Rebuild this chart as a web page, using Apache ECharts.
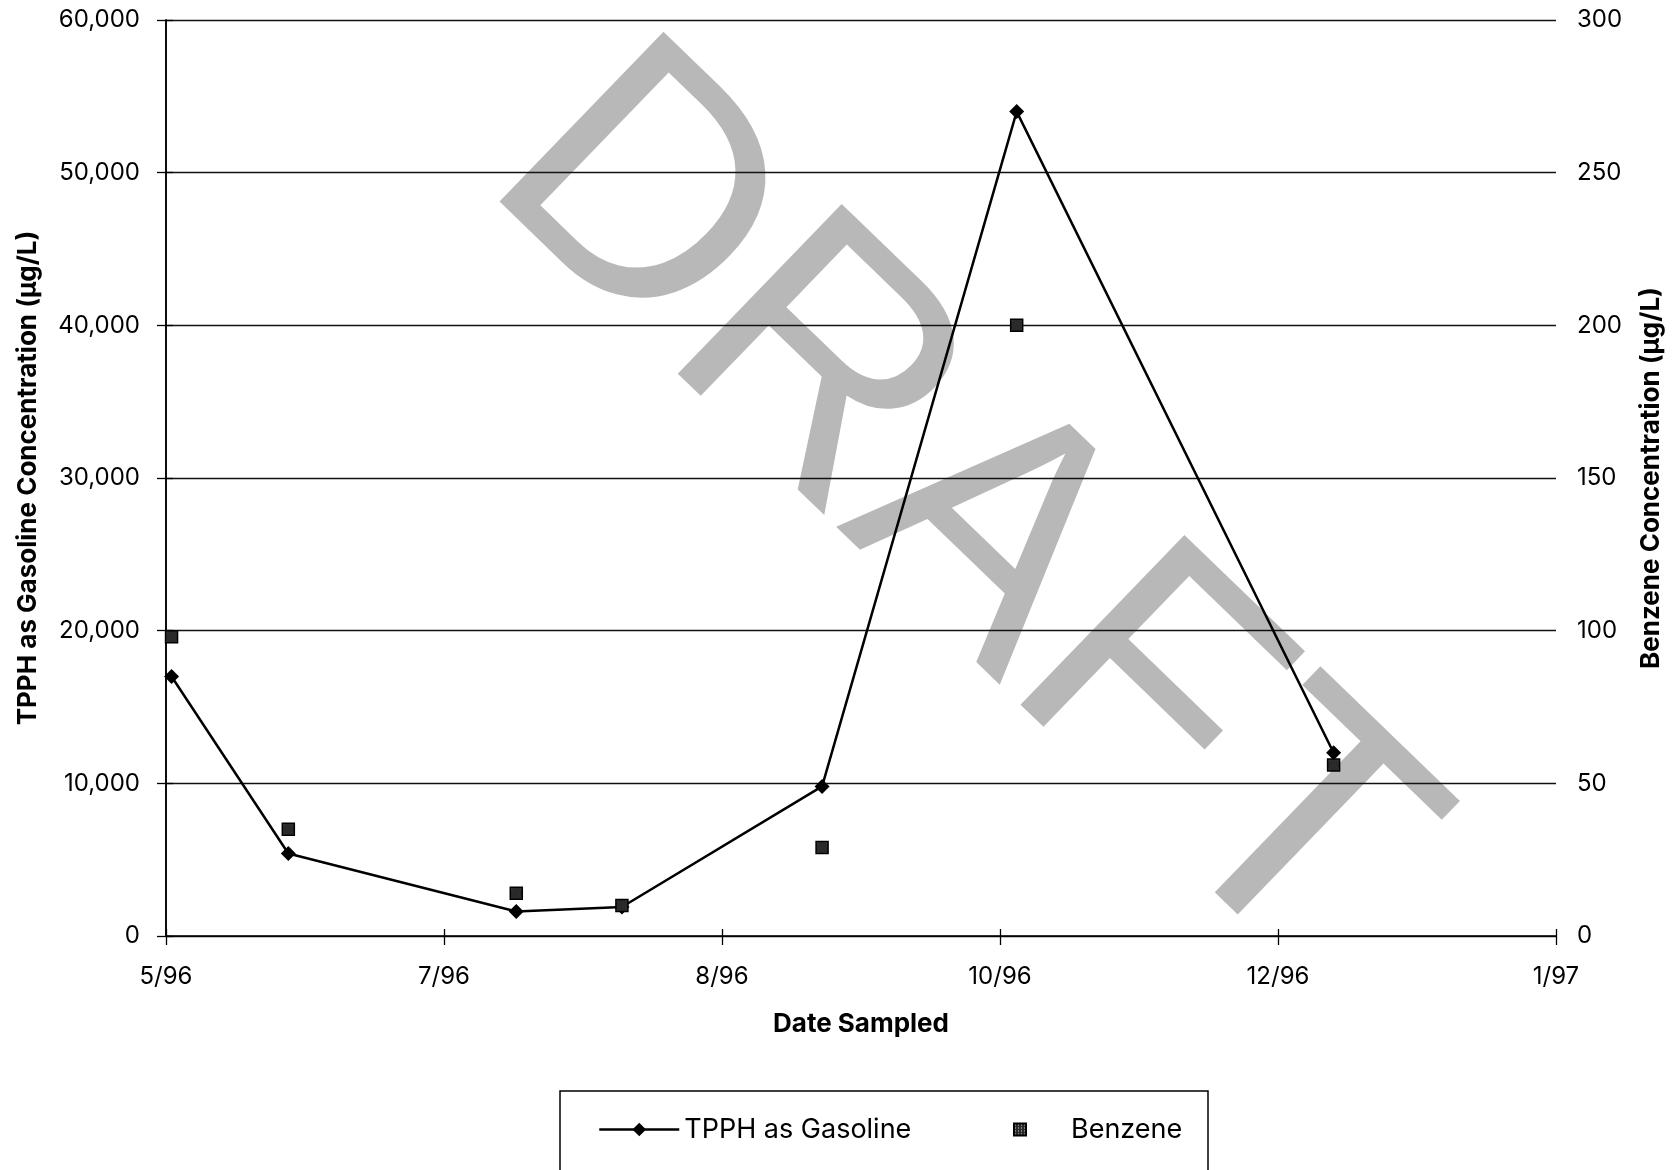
<!DOCTYPE html>
<html>
<head>
<meta charset="utf-8">
<title>TPPH as Gasoline and Benzene Concentrations</title>
<script src="https://cdn.jsdelivr.net/npm/echarts@6/dist/echarts.min.js"></script>
<style>
  html, body { margin: 0; padding: 0; background: #fff; }
  #chart { width: 1677px; height: 1170px; }
</style>
</head>
<body>
<div id="chart"></div>
<script>
// Time axis: day 0 is the axis origin, ticks every 50 days
const axisStart = '1996-05-20';
const axisSpanDays = 250;
const tickStepDays = 50;
const xTickLabels = ['5/96', '7/96', '8/96', '10/96', '12/96', '1/97'];

// Sampling events
const sampleDates = ['1996-05-21', '1996-06-11', '1996-07-22', '1996-08-10', '1996-09-15', '1996-10-20', '1996-12-16'];
const tpphValues = [17000, 5400, 1600, 1900, 9800, 54000, 12000];   // µg/L, left axis
const benzeneValues = [98, 35, 14, 10, 29, 200, 56];                  // µg/L, right axis

const tpphTicks = { min: 0, max: 60000, step: 10000 };
const benzeneTicks = { min: 0, max: 300, step: 50 };

const DAY_MS = 86400000;
function dayOffset(dateStr) {
  return (Date.parse(dateStr) - Date.parse(axisStart)) / DAY_MS;
}
const tpphData = sampleDates.map((d, i) => [dayOffset(d), tpphValues[i]]);
const benzeneData = sampleDates.map((d, i) => [dayOffset(d), benzeneValues[i]]);

// Small dotted fill for the benzene squares
function dotPattern() {
  const c = document.createElement('canvas');
  c.width = 3; c.height = 3;
  const g = c.getContext('2d');
  g.fillStyle = '#2a2a2a';
  g.fillRect(0, 0, 3, 3);
  g.fillStyle = '#d8d8d8';
  g.fillRect(1, 1, 1, 1);
  return { image: c, repeat: 'repeat' };
}

const FONT = 'Inter, "Liberation Sans", Arial, sans-serif';
const INK = '#000';

const chart = echarts.init(document.getElementById('chart'), null, { renderer: 'canvas' });

const tickFmt = v => v.toLocaleString('en-US');

chart.setOption({
  animation: false,
  backgroundColor: '#fff',
  grid: { left: 166, right: 121, top: 20, bottom: 234, containLabel: false },
  xAxis: [
    {
      type: 'value',
      position: 'bottom',
      min: 0, max: axisSpanDays, interval: tickStepDays,
      axisLine: { show: true, lineStyle: { color: INK, width: 1.5 } },
      axisTick: { show: true, inside: false, length: 9, lineStyle: { color: INK, width: 1.3 } },
      axisLabel: {
        margin: 29, color: INK, fontFamily: FONT, fontSize: 24,
        formatter: v => xTickLabels[Math.round(v / tickStepDays)] || ''
      },
      splitLine: { show: false },
      name: 'Date Sampled',
      nameLocation: 'middle',
      nameGap: 75,
      nameTextStyle: { color: INK, fontFamily: FONT, fontSize: 26, fontWeight: 'bold' }
    },
    {
      // inner half of the crossing date ticks
      type: 'value',
      position: 'bottom',
      min: 0, max: axisSpanDays, interval: tickStepDays,
      axisLine: { show: false },
      axisTick: { show: true, inside: true, length: 7, lineStyle: { color: INK, width: 1.3 } },
      axisLabel: { show: false },
      splitLine: { show: false }
    }
  ],
  yAxis: [
    {
      type: 'value',
      position: 'left',
      min: tpphTicks.min, max: tpphTicks.max, interval: tpphTicks.step,
      axisLine: { show: true, lineStyle: { color: INK, width: 1.6 } },
      axisTick: { show: true, inside: false, length: 9, lineStyle: { color: INK, width: 1.3 } },
      axisLabel: { margin: 26, color: INK, fontFamily: FONT, fontSize: 24, formatter: tickFmt },
      splitLine: { show: true, lineStyle: { color: '#111', width: 1.4 } },
      name: 'TPPH as Gasoline Concentration (µg/L)',
      nameLocation: 'middle',
      nameRotate: 90,
      nameGap: 125,
      nameTextStyle: { color: INK, fontFamily: FONT, fontSize: 26, fontWeight: 'bold' }
    },
    {
      type: 'value',
      position: 'right',
      min: benzeneTicks.min, max: benzeneTicks.max, interval: benzeneTicks.step,
      axisLine: { show: true, lineStyle: { color: INK, width: 1.5 } },
      axisTick: { show: true, inside: false, length: 7, lineStyle: { color: INK, width: 1.3 } },
      axisLabel: { margin: 21, color: INK, fontFamily: FONT, fontSize: 24 },
      splitLine: { show: false },
      name: 'Benzene Concentration (µg/L)',
      nameLocation: 'middle',
      nameRotate: 90,
      nameGap: 82,
      nameTextStyle: { color: INK, fontFamily: FONT, fontSize: 26, fontWeight: 'bold' }
    }
  ],
  legend: [
    {
      data: ['TPPH as Gasoline'],
      left: 598, top: 1116, padding: 0,
      itemWidth: 80, itemHeight: 17,
      lineStyle: { width: 2.5 },
      textStyle: { color: INK, fontFamily: FONT, fontSize: 27 },
      selectedMode: false
    },
    {
      data: [{ name: 'Benzene', icon: 'rect' }],
      left: 1013, top: 1116, padding: 0,
      itemWidth: 12, itemHeight: 12,
      textStyle: { color: INK, fontFamily: FONT, fontSize: 27, padding: [0, 0, 0, 40] },
      selectedMode: false
    }
  ],
  graphic: [
    {
      // DRAFT stamp across the plot
      type: 'text',
      z: -10,
      silent: true,
      x: 545, y: 114,
      rotation: -44 * Math.PI / 180,
      style: {
        text: 'DRAFT',
        font: '343px "Liberation Sans", Arial, sans-serif',
        fill: '#b8b8b8',
        align: 'left', textAlign: 'left',
        verticalAlign: 'middle', textVerticalAlign: 'middle'
      }
    },
    {
      // legend frame, running off the bottom edge
      type: 'rect',
      z: 5,
      silent: true,
      shape: { x: 560, y: 1091, width: 648, height: 90 },
      style: { fill: 'none', stroke: INK, lineWidth: 1.5 }
    }
  ],
  series: [
    {
      name: 'TPPH as Gasoline',
      type: 'line',
      xAxisIndex: 0, yAxisIndex: 0,
      data: tpphData,
      symbol: 'diamond',
      symbolSize: 15,
      showSymbol: true,
      itemStyle: { color: INK },
      lineStyle: { color: INK, width: 2.5 },
      z: 4
    },
    {
      name: 'Benzene',
      type: 'scatter',
      xAxisIndex: 0, yAxisIndex: 1,
      data: benzeneData,
      symbol: 'rect',
      symbolSize: 12,
      itemStyle: { color: dotPattern(), borderColor: INK, borderWidth: 1.5, opacity: 1 },
      z: 5
    }
  ]
});
</script>
</body>
</html>
